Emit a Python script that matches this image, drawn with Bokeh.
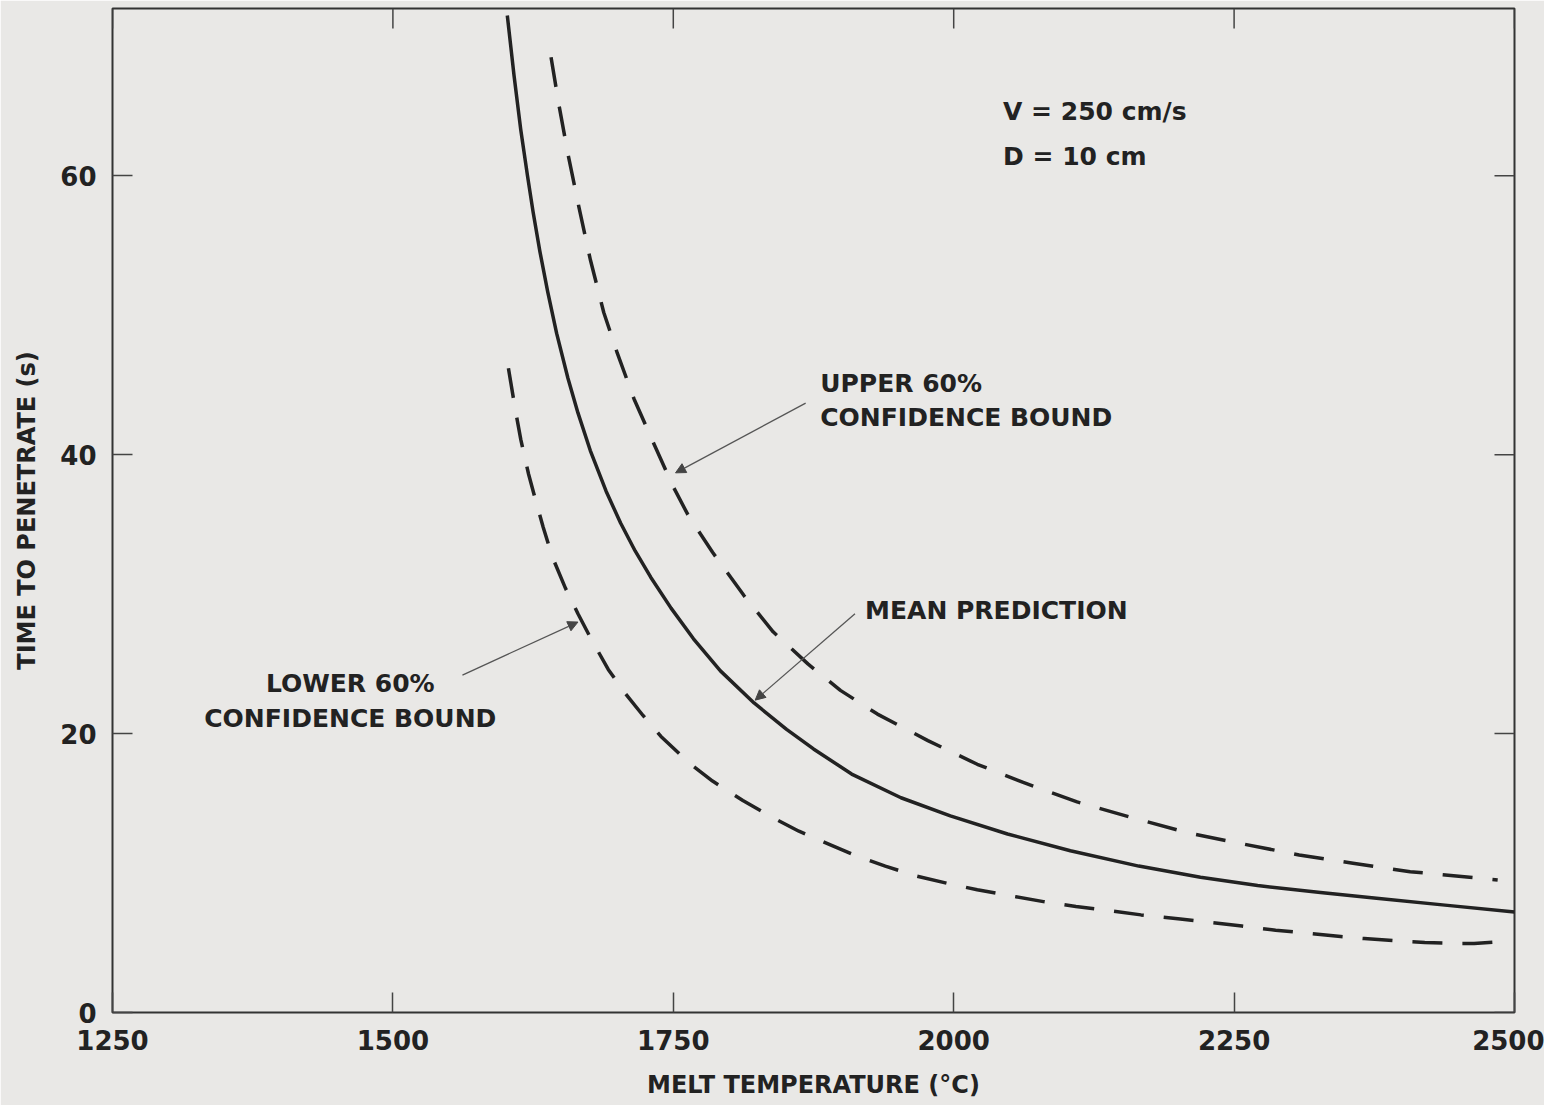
from bokeh.plotting import figure
from bokeh.models import FixedTicker, Range1d, Label, Arrow, NormalHead
from bokeh.embed import file_html
from bokeh.resources import INLINE

# Melt temperature (°C) vs. time to penetrate (s)
mean_temp = [1602, 1608, 1614, 1620, 1625, 1631, 1638, 1646, 1656, 1665, 1676, 1690, 1703, 1716, 1730,
             1748, 1768, 1792, 1822, 1851, 1875, 1909, 1953, 1997, 2048, 2104, 2165, 2220, 2271, 2327,
             2377, 2438, 2500]
mean_time = [71.5, 67.2, 63.3, 60.0, 57.4, 54.6, 51.7, 48.7, 45.5, 43.0, 40.3, 37.4, 35.1, 33.1, 31.2,
             29.0, 26.8, 24.5, 22.2, 20.3, 18.9, 17.1, 15.4, 14.1, 12.8, 11.6, 10.5, 9.7, 9.1, 8.6,
             8.2, 7.7, 7.2]

upper_temp = [1641, 1648, 1656, 1666, 1676, 1688, 1700, 1715, 1732, 1750, 1763, 1785, 1813, 1839, 1870,
              1899, 1932, 1977, 2021, 2062, 2110, 2158, 2208, 2257, 2308, 2356, 2407, 2460, 2485]
upper_time = [68.5, 65.1, 61.6, 57.7, 54.0, 50.2, 47.3, 44.0, 40.9, 37.7, 35.7, 33.0, 29.9, 27.3, 25.0,
              23.1, 21.4, 19.5, 17.8, 16.5, 15.1, 14.0, 12.9, 12.1, 11.3, 10.7, 10.1, 9.7, 9.5]

lower_temp = [1603, 1609, 1614, 1621, 1627, 1634, 1642, 1654, 1665, 1676, 1692, 1707, 1723, 1739, 1764,
              1785, 1812, 1838, 1862, 1888, 1911, 1939, 1966, 1995, 2021, 2052, 2080, 2109, 2134, 2167,
              2202, 2230, 2257, 2287, 2314, 2345, 2366, 2398, 2420, 2448, 2464, 2492]
lower_time = [46.2, 43.3, 41.1, 38.6, 36.8, 34.8, 32.7, 30.4, 28.6, 26.9, 24.6, 22.9, 21.3, 19.8, 17.9,
              16.6, 15.2, 14.0, 13.0, 12.1, 11.3, 10.5, 9.8, 9.25, 8.8, 8.35, 7.95, 7.6, 7.35, 7.0,
              6.7, 6.45, 6.2, 5.9, 5.7, 5.45, 5.3, 5.12, 5.02, 4.95, 4.95, 5.1]

x_ticks = [1250, 1500, 1750, 2000, 2250, 2500]
y_ticks = [0, 20, 40, 60]
X_MIN, X_MAX = 1250, 2500
Y_MIN, Y_MAX = 0, 72

PAPER = "#e9e8e6"
INK = "#222222"
TICK = "#444444"
FONT = "DejaVu Sans"

p = figure(
    frame_width=1402, frame_height=1004,
    min_border_left=112, min_border_right=30, min_border_top=8, min_border_bottom=93,
    x_range=Range1d(X_MIN, X_MAX), y_range=Range1d(Y_MIN, Y_MAX),
    output_backend="svg", toolbar_location=None,
    background_fill_color=PAPER, border_fill_color=PAPER,
)
p.outline_line_color = "#333333"
p.outline_line_width = 2
p.grid.visible = False

for ax, ticks in ((p.xaxis[0], x_ticks), (p.yaxis[0], y_ticks)):
    ax.ticker = FixedTicker(ticks=ticks)
    ax.axis_line_color = None
    ax.major_tick_in = 20
    ax.major_tick_out = 0
    ax.major_tick_line_color = TICK
    ax.major_tick_line_width = 1.5
    ax.minor_tick_line_color = None
    ax.major_label_text_font = FONT
    ax.major_label_text_font_style = "bold"
    ax.major_label_text_font_size = "26px"
    ax.major_label_text_color = INK
    ax.axis_label_text_font = FONT
    ax.axis_label_text_font_style = "bold"
    ax.axis_label_text_font_size = "24px"
    ax.axis_label_text_color = INK

p.xaxis[0].axis_label = "MELT TEMPERATURE (°C)"
p.yaxis[0].axis_label = "TIME TO PENETRATE (s)"
p.xaxis[0].major_label_standoff = 17
p.xaxis[0].axis_label_standoff = 18
p.yaxis[0].major_label_standoff = 16
p.yaxis[0].axis_label_standoff = 16

# inward ticks along the top and right edges of the frame
p.ray(x=x_ticks, y=[Y_MAX] * len(x_ticks), length=20, length_units="screen",
      angle=-90, angle_units="deg", line_color=TICK, line_width=1.5)
p.ray(x=[X_MAX] * len(y_ticks), y=y_ticks, length=20, length_units="screen",
      angle=180, angle_units="deg", line_color=TICK, line_width=1.5)

# curves
p.line(mean_temp, mean_time, line_color=INK, line_width=3.5, line_join="round")
p.line(upper_temp, upper_time, line_color=INK, line_width=3.5, line_dash="30 20", line_join="round")
p.line(lower_temp, lower_time, line_color=INK, line_width=3.5, line_dash="30 20", line_join="round")


def note(x, y, text, align="left"):
    p.add_layout(Label(x=x, y=y, text=text, text_font=FONT, text_font_style="bold",
                       text_font_size="25px", text_color=INK,
                       text_align=align, text_baseline="middle"))


note(2044, 64.6, "V = 250 cm/s")
note(2044, 61.4, "D = 10 cm")
note(1881, 45.1, "UPPER 60%")
note(1881, 42.65, "CONFIDENCE BOUND")
note(1921, 28.8, "MEAN PREDICTION")
note(1462, 23.6, "LOWER 60%", align="center")
note(1462, 21.1, "CONFIDENCE BOUND", align="center")


def leader(x0, y0, x1, y1):
    p.add_layout(Arrow(end=NormalHead(size=10, fill_color=TICK, line_color=TICK),
                       x_start=x0, y_start=y0, x_end=x1, y_end=y1,
                       line_color="#555555", line_width=1.3))


leader(1868, 43.7, 1752, 38.7)
leader(1912, 28.6, 1823, 22.4)
leader(1562, 24.2, 1665, 28.0)

open("out.html", "w").write(file_html(p, INLINE))
